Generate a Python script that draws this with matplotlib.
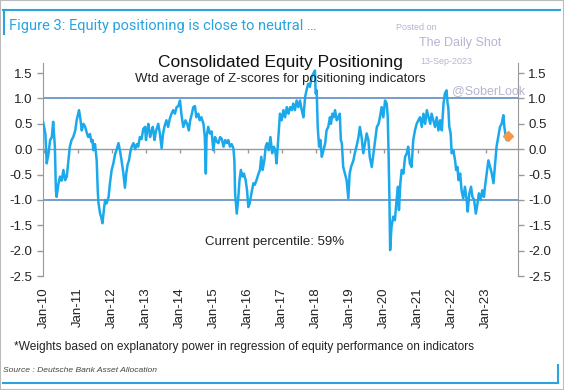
import matplotlib
matplotlib.use("Agg")
import matplotlib.pyplot as plt
from matplotlib.patches import Rectangle
from matplotlib.lines import Line2D

plt.rcParams["font.family"] = ["Liberation Sans", "DejaVu Sans"]

# fractional years and z-score values
years = [
    2009.98, 2010.04, 2010.08, 2010.13, 2010.18, 2010.23, 2010.27, 2010.32, 2010.35, 2010.37,
    2010.42, 2010.47, 2010.52, 2010.57, 2010.62, 2010.67, 2010.72, 2010.76, 2010.81, 2010.86,
    2010.92, 2010.96, 2011.03, 2011.07, 2011.11, 2011.16, 2011.21, 2011.26, 2011.30, 2011.35,
    2011.40, 2011.43, 2011.45, 2011.50, 2011.55, 2011.58, 2011.60, 2011.65, 2011.68, 2011.72,
    2011.77, 2011.80, 2011.84, 2011.90, 2011.94, 2011.99, 2012.04, 2012.09, 2012.14, 2012.19,
    2012.24, 2012.28, 2012.33, 2012.38, 2012.42, 2012.46, 2012.50, 2012.54, 2012.58, 2012.63,
    2012.68, 2012.73, 2012.77, 2012.82, 2012.87, 2012.92, 2012.97, 2013.00, 2013.04, 2013.07,
    2013.12, 2013.16, 2013.20, 2013.25, 2013.29, 2013.36, 2013.41, 2013.46, 2013.50, 2013.54,
    2013.60, 2013.65, 2013.70, 2013.75, 2013.80, 2013.85, 2013.90, 2013.95, 2014.00, 2014.04,
    2014.07, 2014.10, 2014.16, 2014.21, 2014.26, 2014.30, 2014.35, 2014.39, 2014.44, 2014.48,
    2014.54, 2014.58, 2014.63, 2014.69, 2014.73, 2014.76, 2014.78, 2014.83, 2014.88, 2014.93,
    2014.98, 2015.03, 2015.08, 2015.13, 2015.18, 2015.23, 2015.28, 2015.33, 2015.38, 2015.42,
    2015.47, 2015.52, 2015.57, 2015.60, 2015.62, 2015.67, 2015.71, 2015.75, 2015.79, 2015.84,
    2015.88, 2015.93, 2015.97, 2016.01, 2016.05, 2016.10, 2016.16, 2016.20, 2016.25, 2016.30,
    2016.35, 2016.39, 2016.43, 2016.48, 2016.52, 2016.56, 2016.61, 2016.66, 2016.71, 2016.76,
    2016.80, 2016.84, 2016.88, 2016.91, 2016.94, 2016.99, 2017.04, 2017.09, 2017.14, 2017.19,
    2017.24, 2017.29, 2017.33, 2017.38, 2017.43, 2017.48, 2017.53, 2017.58, 2017.63, 2017.68,
    2017.72, 2017.77, 2017.82, 2017.87, 2017.92, 2017.97, 2017.99, 2018.02, 2018.05, 2018.09,
    2018.13, 2018.17, 2018.22, 2018.27, 2018.31, 2018.36, 2018.41, 2018.44, 2018.48, 2018.52,
    2018.56, 2018.61, 2018.66, 2018.70, 2018.73, 2018.76, 2018.80, 2018.85, 2018.90, 2018.95,
    2018.99, 2019.03, 2019.10, 2019.14, 2019.19, 2019.25, 2019.29, 2019.34, 2019.39, 2019.44,
    2019.49, 2019.54, 2019.58, 2019.64, 2019.69, 2019.74, 2019.79, 2019.84, 2019.88, 2019.93,
    2019.98, 2020.03, 2020.08, 2020.11, 2020.13, 2020.16, 2020.18, 2020.22, 2020.27, 2020.32,
    2020.37, 2020.41, 2020.44, 2020.48, 2020.52, 2020.57, 2020.62, 2020.67, 2020.71, 2020.76,
    2020.81, 2020.86, 2020.91, 2020.96, 2021.01, 2021.06, 2021.11, 2021.16, 2021.21, 2021.26,
    2021.31, 2021.36, 2021.40, 2021.45, 2021.50, 2021.55, 2021.60, 2021.65, 2021.70, 2021.75,
    2021.79, 2021.84, 2021.87, 2021.89, 2021.92, 2021.96, 2021.99, 2022.04, 2022.09, 2022.12,
    2022.16, 2022.19, 2022.24, 2022.28, 2022.33, 2022.38, 2022.43, 2022.46, 2022.51, 2022.56,
    2022.60, 2022.65, 2022.70, 2022.75, 2022.79, 2022.84, 2022.89, 2022.94, 2022.97, 2023.02,
    2023.07, 2023.12, 2023.17, 2023.22, 2023.27, 2023.31, 2023.36, 2023.41, 2023.46, 2023.51,
    2023.54, 2023.58, 2023.61, 2023.64,
]
zscores = [
    0.52, 0.30, -0.28, -0.10, 0.18, 0.24, 0.54, 0.05, -0.81, -0.94,
    -0.70, -0.54, -0.62, -0.41, -0.61, -0.54, -0.22, 0.05, 0.18, 0.24,
    0.37, 0.57, 0.77, 0.60, 0.37, 0.50, 0.44, 0.32, 0.24, 0.30,
    0.14, 0.18, -0.02, 0.10, -0.22, -0.80, -1.05, -1.27, -1.33, -1.46,
    -1.14, -1.00, -1.07, -0.94, -0.67, -0.41, -0.28, -0.10, 0.00, 0.12,
    -0.05, -0.22, -0.45, -0.76, -0.48, -0.30, -0.22, -0.05, 0.05, 0.12,
    0.00, 0.10, 0.05, 0.24, 0.20, 0.40, 0.44, 0.18, 0.40, 0.50,
    0.24, 0.35, 0.44, 0.18, 0.35, 0.50, 0.30, 0.02, 0.30, 0.44,
    0.57, 0.44, 0.60, 0.70, 0.77, 0.70, 0.83, 0.85, 0.96, 0.70,
    0.55, 0.44, 0.57, 0.50, 0.37, 0.57, 0.70, 0.83, 0.85, 0.63,
    0.70, 0.57, 0.63, 0.50, 0.24, -0.48, 0.24, 0.44, 0.31, 0.35,
    -0.02, 0.24, 0.15, 0.12, 0.24, 0.20, 0.05, 0.18, 0.12, 0.18,
    0.05, 0.10, 0.02, -0.22, -0.87, -1.27, -1.00, -0.61, -0.41, -0.54,
    -0.48, -0.61, -0.80, -1.14, -1.07, -0.87, -0.67, -0.70, -0.61, -0.50,
    -0.41, -0.15, -0.41, -0.22, 0.05, 0.12, -0.02, 0.24, -0.08, 0.05,
    -0.02, -0.28, 0.12, 0.44, 0.70, 0.57, 0.77, 0.63, 0.83, 0.70,
    0.83, 0.77, 0.90, 0.77, 0.96, 0.83, 0.96, 0.77, 0.63, 1.03,
    1.16, 1.29, 1.23, 1.42, 1.49, 1.55, 1.10, 1.16, 0.44, 0.05,
    0.18, -0.15, -0.02, 0.12, 0.37, 0.44, 0.63, 0.50, 0.70, 0.63,
    0.77, 0.57, 0.63, 0.70, 0.18, 0.12, -0.35, -0.48, -0.61, -0.97,
    -0.48, -0.35, -0.22, -0.08, 0.05, 0.24, 0.44, 0.24, -0.08, 0.12,
    0.31, 0.18, -0.15, -0.35, -0.08, 0.18, 0.44, 0.50, 0.63, 0.83,
    0.63, 0.96, 0.90, 0.63, 0.05, -1.00, -1.99, -1.53, -1.33, -1.40,
    -1.00, -0.74, -1.20, -0.67, -0.41, -0.48, -0.15, -0.08, 0.05, -0.28,
    -0.35, 0.18, 0.37, 0.50, 0.57, 0.63, 0.44, 0.70, 0.50, 0.77,
    0.63, 0.50, 0.70, 0.57, 0.44, 0.63, 0.37, 0.57, 0.37, 0.90,
    1.10, 1.16, 0.90, 0.83, 0.44, 0.31, -0.08, -0.02, -0.22, -0.41,
    -0.35, -0.61, -0.48, -0.81, -0.97, -0.74, -1.00, -1.23, -0.87, -0.74,
    -0.94, -1.00, -1.27, -1.07, -0.87, -1.00, -0.81, -0.94, -0.74, -0.48,
    -0.22, -0.35, -0.48, -0.67, -0.28, 0.05, 0.24, 0.44, 0.50, 0.67,
    0.44, 0.24, 0.18, 0.24,
]
current_year = 2023.66
current_value = 0.26

tick_years = list(range(2010, 2024))
tick_labels = ["Jan-%02d" % (y % 100) for y in tick_years]
y_ticks = [1.5, 1.0, 0.5, 0.0, -0.5, -1.0, -1.5, -2.0, -2.5]

line_blue = "#1BA9EC"
band_blue = "#4F81BD"
axis_gray = "#999999"

fig = plt.figure(figsize=(5.64, 3.9), dpi=100)
ax = fig.add_axes([0.0762, 0.2923, 0.8422, 0.5462])

ax.axhline(1.0, color=band_blue, lw=1.1, zorder=1)
ax.axhline(-1.0, color=band_blue, lw=1.1, zorder=1)
ax.axhline(0.0, color=axis_gray, lw=1.0, zorder=1)
ax.vlines(tick_years, -0.07, 0.0, color=axis_gray, lw=1.0, zorder=1)

ax.plot(years, zscores, color=line_blue, lw=1.8, zorder=3)
ax.plot([current_year], [current_value], marker="D", ms=5, color="#F79646",
        ls="none", zorder=4)

ax.set_xlim(2009.97, 2023.94)
ax.set_ylim(-2.5, 1.7)
ax.set_yticks(y_ticks)
ax.set_yticklabels(["%.1f" % v for v in y_ticks])
ax.set_xticks(tick_years)
ax.set_xticklabels(tick_labels, rotation=90)
ax.tick_params(axis="x", length=0, pad=8, labelsize=9.5, colors="#222222")
ax.tick_params(axis="y", direction="out", length=4, color=axis_gray, width=1,
               labelsize=9.5, labelcolor="#222222", labelright=True, right=True)

for side in ["top", "bottom"]:
    ax.spines[side].set_visible(False)
for side in ["left", "right"]:
    ax.spines[side].set_color(axis_gray)
    ax.spines[side].set_bounds(-2.5, 1.7)

ax.text(0.5, 1.0, "Consolidated Equity Positioning", transform=ax.transAxes,
        ha="center", va="center", fontsize=12.5, color="#111111")
ax.text(0.5, 0.925, "Wtd average of Z-scores for positioning indicators",
        transform=ax.transAxes, ha="center", va="center", fontsize=9.5,
        color="#222222")
ax.text(0.488, 0.16, "Current percentile: 59%", transform=ax.transAxes,
        ha="center", va="center", fontsize=9.5, color="#222222")

# header / footer decoration
title_blue = "#2AA3DE"
fig.add_artist(Line2D([3 / 564, 560 / 564], [1 - 10 / 390, 1 - 10 / 390],
                      color=title_blue, lw=1.5))
fig.add_artist(Line2D([4 / 564, 4 / 564], [1 - 10 / 390, 1 - 34 / 390],
                      color=title_blue, lw=1.5))
fig.add_artist(Line2D([3 / 564, 558 / 564], [1 - 383 / 390, 1 - 383 / 390],
                      color=title_blue, lw=1.5))
fig.add_artist(Line2D([558 / 564, 558 / 564], [1 - 383 / 390, 1 - 365 / 390],
                      color=title_blue, lw=1.5))
fig.add_artist(Rectangle((0, 0), 1, 1, transform=fig.transFigure, fill=False,
                         edgecolor="#BBBBBB", lw=1.5))

fig.text(9 / 564, 1 - 26 / 390, "Figure 3: Equity positioning is close to neutral \u2026",
         ha="left", va="center", fontsize=10.5, color=title_blue, family="Roboto")

wm = "#B5B5D2"
fig.text(396 / 564, 1 - 27 / 390, "Posted on", fontsize=6.5, color=wm, va="center")
fig.text(419 / 564, 1 - 43 / 390, "The Daily Shot", fontsize=9, color=wm, va="center")
fig.text(420 / 564, 1 - 61 / 390, "13-Sep-2023", fontsize=6.5, color=wm, va="center")
fig.text(452 / 564, 1 - 91 / 390, "@SoberLook", fontsize=9, color=wm, va="center")

fig.text(14 / 564, 1 - 347 / 390,
         "*Weights based on explanatory power in regression of equity performance on indicators",
         fontsize=8.6, color="#222222", va="center")
fig.text(3 / 564, 1 - 370 / 390, "Source : Deutsche Bank Asset Allocation",
         fontsize=6.1, style="italic", color="#444444", va="center")

fig.savefig("out.png", dpi=100)
